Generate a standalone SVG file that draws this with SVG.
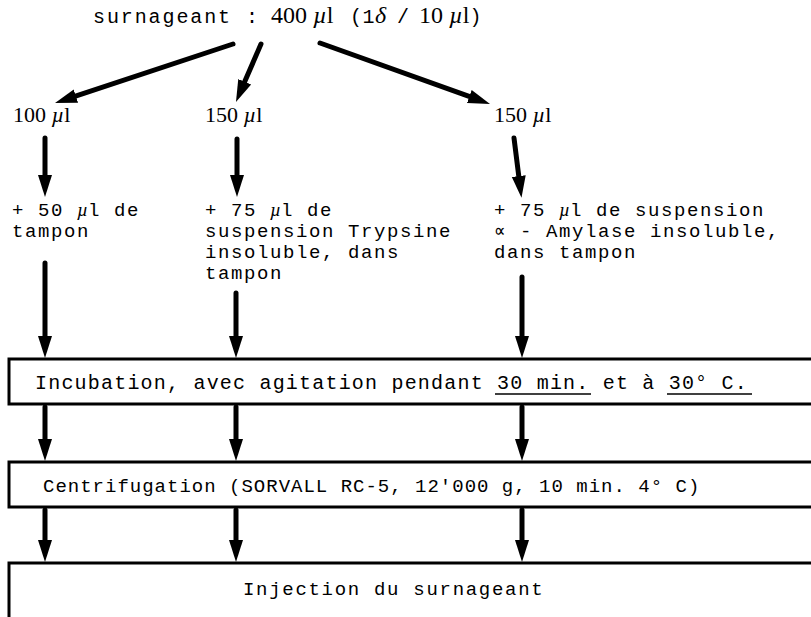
<svg xmlns="http://www.w3.org/2000/svg" width="811" height="617" viewBox="0 0 811 617">
  <style>
    .tw { font-family: "Liberation Mono", "DejaVu Sans Mono", monospace; font-size: 19px; letter-spacing: 1.6px; fill: #000; }
    .num { font-family: "Liberation Serif", "DejaVu Serif", serif; font-size: 22px; letter-spacing: 0; fill: #000; }
    .big { font-size: 24px; }
    .mu { font-family: "Liberation Serif", "DejaVu Serif", serif; font-style: italic; letter-spacing: 0; }
    .shaft { stroke: #000; stroke-width: 5; stroke-linecap: round; fill: none; marker-end: url(#ah); }
    .box { stroke: #000; stroke-width: 3; fill: #fff; }
    .ul { stroke: #000; stroke-width: 1.6; }
  </style>
  <defs>
    <marker id="ah" markerUnits="userSpaceOnUse" markerWidth="26" markerHeight="18" viewBox="0 -9 26 18" refX="2" refY="0" orient="auto">
      <path d="M0,-7 L22,0 L0,7 Z" fill="#000"/>
    </marker>
  </defs>
  <rect width="811" height="617" fill="#fff"/>

  <!-- source volume -->
  <g id="source">
    <text class="tw" y="23" style="font-size:20px;letter-spacing:1.9px"><tspan x="93">surnageant :</tspan><tspan class="num big" x="271">400 </tspan><tspan class="num big mu">µ</tspan><tspan class="num big">l</tspan><tspan x="350" style="letter-spacing:0.5px">(1</tspan><tspan class="mu big">δ</tspan><tspan x="397">/</tspan><tspan class="num big" x="419">10 </tspan><tspan class="num big mu">µ</tspan><tspan class="num big">l</tspan><tspan style="letter-spacing:0">)</tspan></text>
  </g>

  <!-- aliquots -->
  <g id="aliquot-100">
    <text class="num" x="13" y="122">100 <tspan class="mu">µ</tspan>l</text>
  </g>
  <g id="aliquot-150a">
    <text class="num" x="205" y="122">150 <tspan class="mu">µ</tspan>l</text>
  </g>
  <g id="aliquot-150b">
    <text class="num" x="494" y="122">150 <tspan class="mu">µ</tspan>l</text>
  </g>

  <!-- additions -->
  <g id="add-buffer">
    <text class="tw" x="12" y="216">+ 50 <tspan class="mu">µ</tspan>l de</text>
    <text class="tw" x="12" y="237">tampon</text>
  </g>
  <g id="add-trypsin">
    <text class="tw" x="205" y="216">+ 75 <tspan class="mu">µ</tspan>l de</text>
    <text class="tw" x="205" y="237">suspension Trypsine</text>
    <text class="tw" x="205" y="258">insoluble, dans</text>
    <text class="tw" x="205" y="279">tampon</text>
  </g>
  <g id="add-amylase">
    <text class="tw" x="494" y="216">+ 75 <tspan class="mu">µ</tspan>l de suspension</text>
    <text class="tw" x="494" y="237">∝ - Amylase insoluble,</text>
    <text class="tw" x="494" y="258">dans tampon</text>
  </g>

  <!-- process steps -->
  <g id="incubation">
    <path class="box" d="M815,359 H9 V404 H815"/>
    <text class="tw" x="35" y="389" style="font-size:20px;letter-spacing:1.2px">Incubation, avec agitation pendant 30 min. et à 30° C.</text>
    <line class="ul" x1="495" y1="394" x2="591" y2="394"/>
    <line class="ul" x1="667" y1="394" x2="752" y2="394"/>
  </g>
  <g id="centrifugation">
    <path class="box" d="M815,462 H9 V507 H815"/>
    <text class="tw" x="43" y="492" style="letter-spacing:1px">Centrifugation (SORVALL RC-5, 12'000 g, 10 min. 4° C)</text>
  </g>
  <g id="injection">
    <path class="box" d="M815,563 H9 V620"/>
    <text class="tw" x="243" y="595" style="letter-spacing:1.7px">Injection du surnageant</text>
  </g>

  <!-- connectors -->
  <g id="connectors">
    <line class="shaft" x1="233" y1="44" x2="74" y2="96.7"/>
    <line class="shaft" x1="261" y1="44" x2="243.9" y2="83.6"/>
    <line class="shaft" x1="320" y1="43" x2="471.2" y2="97.2"/>

    <line class="shaft" x1="45" y1="138" x2="45" y2="177"/>
    <line class="shaft" x1="237" y1="139" x2="237" y2="177"/>
    <line class="shaft" x1="514" y1="138" x2="519" y2="178"/>

    <line class="shaft" x1="45" y1="263" x2="45" y2="338"/>
    <line class="shaft" x1="236" y1="293" x2="236" y2="338"/>
    <line class="shaft" x1="522" y1="277" x2="522" y2="338"/>

    <line class="shaft" x1="45" y1="407" x2="45" y2="441"/>
    <line class="shaft" x1="236" y1="407" x2="236" y2="441"/>
    <line class="shaft" x1="522" y1="407" x2="522" y2="441"/>

    <line class="shaft" x1="45" y1="510" x2="45" y2="542"/>
    <line class="shaft" x1="236" y1="510" x2="236" y2="542"/>
    <line class="shaft" x1="522" y1="510" x2="522" y2="542"/>
  </g>
</svg>
